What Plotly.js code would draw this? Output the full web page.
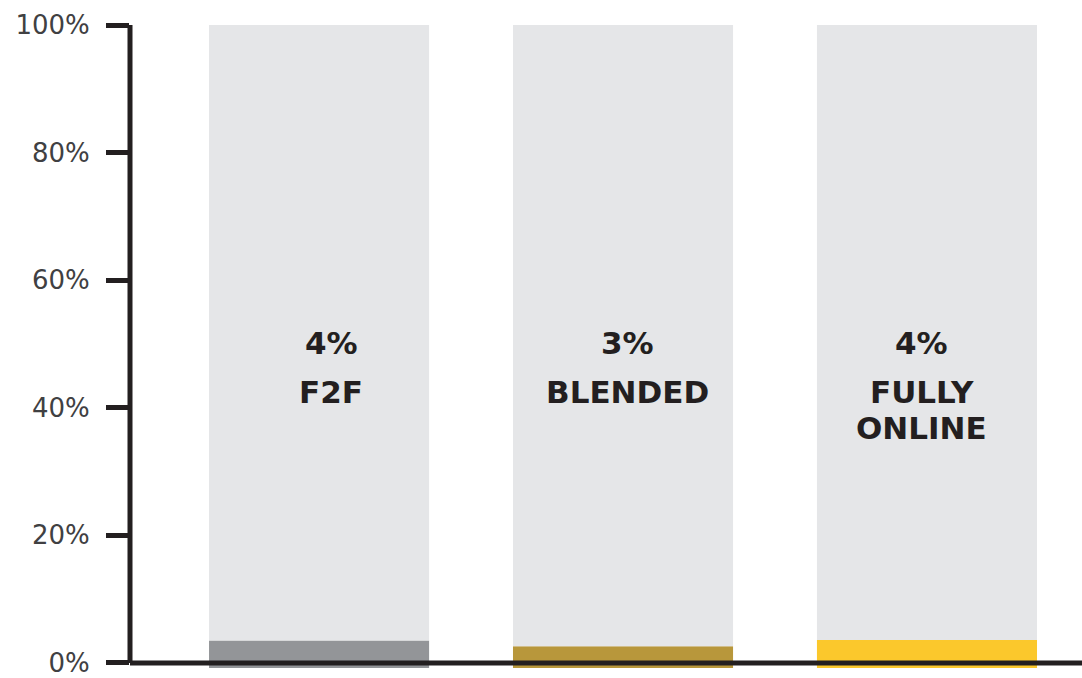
<!DOCTYPE html>
<html>
<head>
<meta charset="utf-8">
<script src="https://cdn.plot.ly/plotly-3.0.1.min.js"></script>
<style>
  html, body { margin: 0; padding: 0; background: #fff; }
  #chart { width: 1082px; height: 678px; }
</style>
</head>
<body>
<div id="chart"></div>
<script>
const categories = ['F2F', 'BLENDED', 'FULLY<br>ONLINE'];
const shareValues = [3.5, 2.6, 3.6];
const shareLabels = ['4%', '3%', '4%'];
const barColors = ['#939598', '#b8973b', '#fbc82c'];
const totalValue = 100;
const yTicks = [0, 20, 40, 60, 80, 100];
const yTickText = ['0%', '20%', '40%', '60%', '80%', '100%'];

const xs = categories.map((_, i) => i);
const barBase = -0.8;
const ink = '#231f20';
// labels in the original sit a little off the bar centres
const labelShift = [12, 4, -5];
const labelFont = { family: 'DejaVu Sans, Arial, sans-serif', size: 31, color: ink, weight: 700 };

const shareTrace = {
  x: xs,
  y: shareValues.map((v) => v - barBase),
  base: barBase,
  type: 'bar',
  width: 0.724,
  marker: { color: barColors },
  hoverinfo: 'skip',
};

const restTrace = {
  x: xs,
  y: shareValues.map((v) => totalValue - v),
  base: shareValues,
  type: 'bar',
  width: 0.724,
  marker: { color: '#e5e6e8' },
  hoverinfo: 'skip',
};

const annotations = [];
xs.forEach((x, i) => {
  annotations.push({
    x, y: 50.2, xref: 'x', yref: 'y', text: shareLabels[i], showarrow: false,
    xshift: labelShift[i], font: labelFont,
  });
  categories[i].split('<br>').forEach((line, j) => {
    annotations.push({
      x, y: 42.5, xref: 'x', yref: 'y', text: line, showarrow: false,
      xshift: labelShift[i], yshift: -36 * j, font: labelFont,
    });
  });
});

const layout = {
  width: 1082,
  height: 678,
  margin: { l: 130, r: 0, t: 25, b: 10 },
  barmode: 'overlay',
  showlegend: false,
  plot_bgcolor: '#fff',
  paper_bgcolor: '#fff',
  xaxis: { range: [-0.622, 2.51], visible: false, fixedrange: true },
  yaxis: {
    range: [barBase, 100],
    tickvals: yTicks,
    ticktext: yTickText,
    ticks: 'outside',
    ticklen: 23,
    tickwidth: 5,
    tickcolor: ink,
    showline: false,
    showgrid: false,
    zeroline: false,
    ticklabelstandoff: 11,
    tickfont: { family: 'DejaVu Sans, Arial, sans-serif', size: 26, color: '#404042' },
    fixedrange: true,
  },
  shapes: [
    {
      type: 'line', xref: 'paper', yref: 'y', x0: 0, x1: 1, y0: 0, y1: 0,
      line: { color: ink, width: 5 },
    },
    {
      type: 'line', xref: 'paper', yref: 'y', x0: 0, x1: 0, y0: 0, y1: 100,
      line: { color: ink, width: 5 },
    },
  ],
  annotations,
};

Plotly.newPlot('chart', [shareTrace, restTrace], layout, { displayModeBar: false, staticPlot: true });
</script>
</body>
</html>
